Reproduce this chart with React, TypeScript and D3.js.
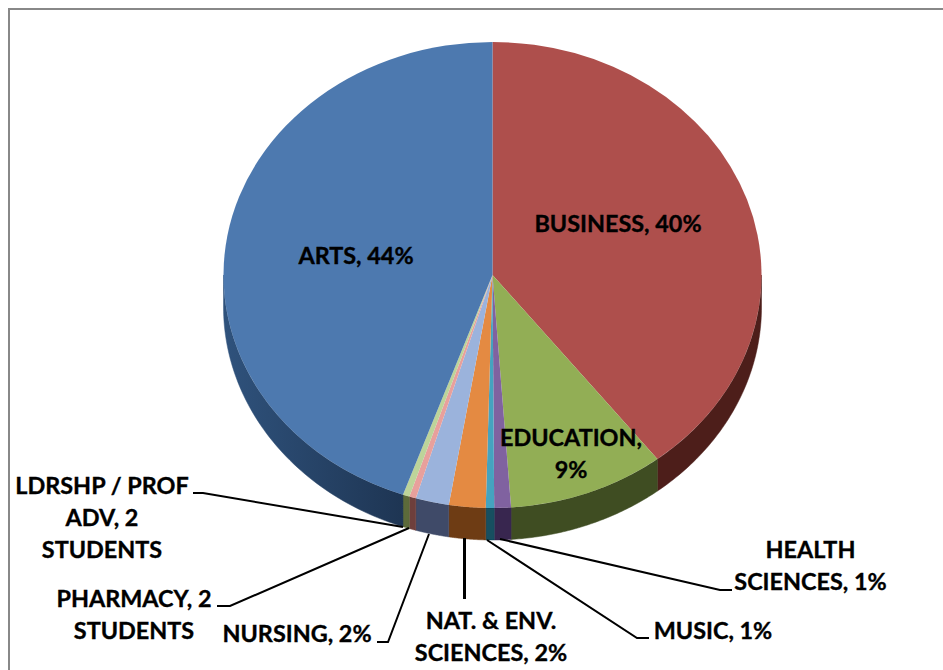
import React from "react";
import * as d3 from "d3";

const categories = ["BUSINESS", "EDUCATION", "HEALTH SCIENCES", "MUSIC", "NAT. & ENV. SCIENCES", "NURSING", "PHARMACY", "LDRSHP / PROF ADV", "ARTS"];
const shares = [39.5, 9.4, 1.0, 0.5, 2.2, 2.0, 0.4, 0.4, 44.6];
const topColors = ["#ae4f4c", "#92ae55", "#8062a0", "#45a3bf", "#e48a42", "#9bb3dc", "#e8a09c", "#bdd49a", "#4d79af"];
const sideColors = ["#4d1e1a", "#3f4d22", "#38264f", "#174f60", "#6e3c14", "#3f4a68", "#6e3f3c", "#5c6a3a", "#24406a"];

const labels: { lines: string[]; x: number; y: number }[] = [
  { lines: ["BUSINESS, 40%"], x: 618, y: 224 },
  { lines: ["EDUCATION,", "9%"], x: 571, y: 438 },
  { lines: ["HEALTH", "SCIENCES, 1%"], x: 810.5, y: 550 },
  { lines: ["MUSIC, 1%"], x: 713, y: 631 },
  { lines: ["NAT. & ENV.", "SCIENCES, 2%"], x: 491, y: 621 },
  { lines: ["NURSING, 2%"], x: 297, y: 634 },
  { lines: ["PHARMACY, 2", "STUDENTS"], x: 134, y: 599 },
  { lines: ["LDRSHP / PROF", "ADV, 2", "STUDENTS"], x: 102, y: 486 },
  { lines: ["ARTS, 44%"], x: 356, y: 256 },
];
const leaders: { pts: [number, number][]; w: number }[] = [
  { pts: [[732, 590], [720, 590], [500, 539]], w: 2 },
  { pts: [[649, 638], [637, 638], [487, 540]], w: 2 },
  { pts: [[464.5, 599], [464.5, 538]], w: 3 },
  { pts: [[377, 642], [388, 642], [429, 534]], w: 2 },
  { pts: [[217, 606], [230, 606], [409, 528]], w: 2 },
  { pts: [[193, 493], [203, 493], [403, 527]], w: 2 },
];

const cx = 492.5, cy = 275, rx = 269, ry = 233, depth = 32;
const LINE = 32.2;

export default function App() {
  const pie = d3.pie<number>().sort(null).value((d) => d);
  const arcs = pie(shares);
  const arc = d3.arc<d3.PieArcDatum<number>>().innerRadius(0).outerRadius(rx);
  const pt = (a: number, dy = 0) => [cx + rx * Math.sin(a), cy - ry * Math.cos(a) + dy];

  const wall = (s: number, e: number) => {
    const a0 = Math.max(s, Math.PI / 2);
    const a1 = Math.min(e, (3 * Math.PI) / 2);
    if (a1 <= a0) return null;
    const ang = d3.range(0, 61).map((i) => a0 + ((a1 - a0) * i) / 60);
    const top = ang.map((a) => pt(a));
    const bot = ang.slice().reverse().map((a) => pt(a, depth));
    return d3.line()([...top, ...bot] as [number, number][]) + "Z";
  };

  return (
    <svg width={943} height={670} style={{ position: "absolute", left: 0, top: 0, background: "#fff" }}>
      <defs>
        <linearGradient id="artsWall" gradientUnits="userSpaceOnUse" x1={224} y1={0} x2={404} y2={0}>
          <stop offset="0" stopColor="#2f527c" />
          <stop offset="1" stopColor="#1e3553" />
        </linearGradient>
      </defs>
      <rect x={9} y={9} width={960} height={700} fill="#fff" stroke="#888" strokeWidth={2} />
      {arcs.map((d, i) => {
        const p = wall(d.startAngle, d.endAngle);
        const fill = categories[i] === "ARTS" ? "url(#artsWall)" : sideColors[i];
        return p ? <path key={i} d={p} fill={fill} stroke={fill} strokeWidth={0.5} /> : null;
      })}
      <g transform={`translate(${cx},${cy}) scale(1,${ry / rx})`}>
        {arcs.map((d, i) => (
          <path key={i} d={arc(d) as string} fill={topColors[i]} />
        ))}
      </g>
      {leaders.map((l, i) => (
        <path key={i} d={d3.line()(l.pts) as string} fill="none" stroke="#000" strokeWidth={l.w} />
      ))}
      <g fontFamily="Lato, sans-serif" fontWeight={700} fontSize={23.4} fill="#000" stroke="#000" strokeWidth={0.35} textAnchor="middle">
        {labels.map((l, i) => (
          <text key={i} x={l.x} y={l.y + 8}>
            {l.lines.map((t, j) => (
              <tspan key={j} x={l.x} dy={j === 0 ? 0 : LINE}>{t}</tspan>
            ))}
          </text>
        ))}
      </g>
    </svg>
  );
}
